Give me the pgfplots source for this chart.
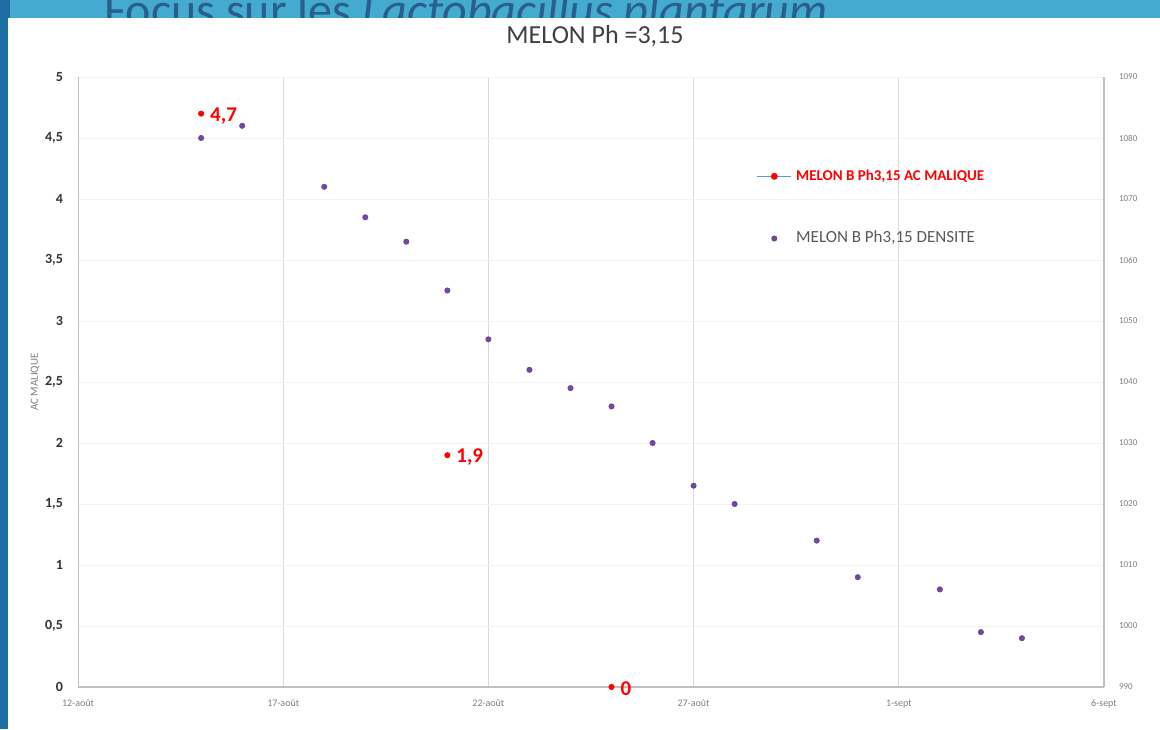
\documentclass[border=0pt]{standalone}
\usepackage{pgfplots}
\pgfplotsset{compat=1.18}
\usepackage{fontspec}
\setmainfont{Carlito}
\definecolor{topblue}{RGB}{69,170,207}
\definecolor{sideblue}{RGB}{30,110,165}
\definecolor{txtblue}{RGB}{40,95,140}
\definecolor{mpurple}{RGB}{112,72,160}
\definecolor{gridg}{RGB}{217,217,217}
\definecolor{axg}{RGB}{191,191,191}
\definecolor{labg}{RGB}{89,89,89}
\definecolor{lineblue}{RGB}{91,155,213}
\pgfplotstableread{
x y
3 1080
4 1082
6 1072
7 1067
8 1063
9 1055
10 1047
11 1042
12 1039
13 1036
14 1030
15 1023
16 1020
18 1014
19 1008
21 1006
22 999
23 998
}\densite
\pgfplotstableread{
x y
3 4.7
9 1.9
13 0
}\malique
\begin{document}
\begin{tikzpicture}
\path[use as bounding box] (0,0) rectangle (580pt,364.5pt);
\fill[topblue] (0,0) rectangle (580pt,364.5pt);
\fill[sideblue] (0,0) rectangle (5pt,364.5pt);
\begin{scope}
\clip (0,355.5pt) rectangle (580pt,364.5pt);
\node[anchor=base west, inner sep=0pt, text depth=0pt, text=txtblue, font=\fontsize{24}{24}\selectfont] at (52pt,351pt) {Focus sur les \textit{Lactobacillus plantarum}};
\end{scope}
\fill[white] (4pt,0) rectangle (580pt,355.5pt);
\node[text=black!75, inner sep=1pt, font=\fontsize{13}{13}\selectfont] at (297.5pt,346.5pt) {MELON Ph =3,15};
\begin{axis}[
  at={(39pt,21pt)}, anchor=south west, scale only axis,
  width=513pt, height=305pt,
  xmin=0, xmax=25, ymin=0, ymax=5,
  axis x line*=bottom, axis y line*=left,
  x axis line style={draw=axg, thick, -},
  y axis line style={draw=axg, -},
  xtick={0,5,10,15,20,25},
  xticklabels={12-août,17-août,22-août,27-août,1-sept,6-sept},
  ytick={0,0.5,...,5},
  major tick length=0pt,
  xmajorgrids, ymajorgrids,
  grid style={gridg},
  y grid style={gray!10},
  xticklabel style={font=\fontsize{5}{5}\selectfont, text=gray, yshift=-3pt},
  yticklabel style={font=\fontsize{7}{7}\bfseries\selectfont, text=black!80, xshift=-4pt},
  /pgf/number format/.cd, use comma, 1000 sep={}, assume math mode=true,
  /pgfplots/.cd,
  ylabel={AC MALIQUE},
  ylabel style={font=\fontsize{5.5}{6}\selectfont, text=gray},
  ylabel shift=-4pt,
  clip=false,
]
\addplot[only marks, mark=*, mark size=1.3pt, color=red,
  nodes near coords, point meta=y,
  every node near coord/.append style={anchor=west, xshift=1pt, yshift=-1pt, font=\fontsize{10.5}{10}\bfseries\selectfont, text=red}]
  table[x=x,y=y] {\malique};
\end{axis}
\begin{axis}[
  at={(39pt,21pt)}, anchor=south west, scale only axis,
  width=513pt, height=305pt,
  xmin=0, xmax=25, ymin=990, ymax=1090,
  axis x line=none, axis y line*=right,
  y axis line style={draw=axg, thick, -},
  ytick={990,1000,...,1090},
  major tick length=0pt,
  yticklabel style={font=\fontsize{4.5}{5}\selectfont, text=gray, xshift=4pt},
  /pgf/number format/.cd, 1000 sep={}, assume math mode=true,
  /pgfplots/.cd,
  legend style={draw=none, fill=none, at={(0.655,0.862)}, anchor=north west, row sep=20pt, font=\fontsize{7.5}{8}\selectfont},
  legend cell align=left,
]
\addlegendimage{lineblue, thick, mark=*, mark size=1.3pt, mark options={red, fill=red, draw=red}}
\addlegendentry{\textcolor{red}{\bfseries MELON B Ph3,15 AC MALIQUE}}
\addplot[only marks, mark=*, mark size=1.3pt, color=mpurple] table[x=x,y=y] {\densite};
\addlegendentry{\textcolor{labg}{\fontsize{8.5}{9}\selectfont MELON B Ph3,15 DENSITE}}
\end{axis}
\end{tikzpicture}
\end{document}
